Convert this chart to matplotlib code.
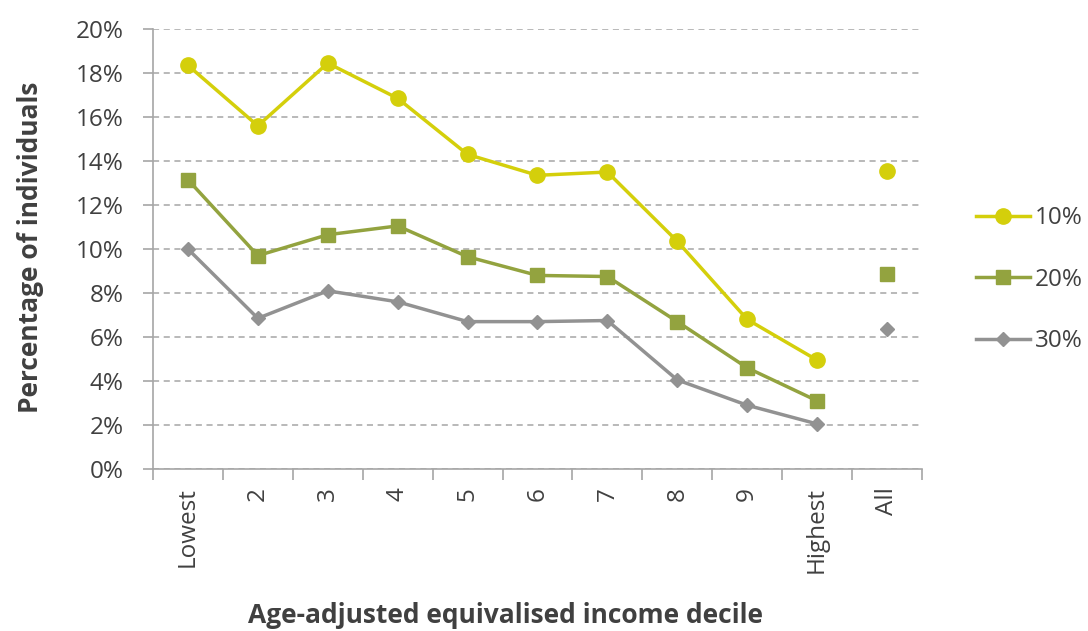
import matplotlib
matplotlib.use("Agg")
import matplotlib.pyplot as plt
from matplotlib.ticker import FuncFormatter, FixedLocator
import numpy as np

categories = ["Lowest", "2", "3", "4", "5", "6", "7", "8", "9", "Highest", "All"]
s10 = [18.35, 15.6, 18.45, 16.85, 14.3, 13.35, 13.5, 10.35, 6.8, 4.95, 13.55]
s20 = [13.15, 9.7, 10.65, 11.05, 9.65, 8.8, 8.75, 6.7, 4.6, 3.1, 8.85]
s30 = [10.0, 6.85, 8.1, 7.6, 6.7, 6.7, 6.75, 4.05, 2.9, 2.05, 6.35]
series_names = ["10%", "20%", "30%"]

plt.rcParams["font.family"] = ["Open Sans", "DejaVu Sans"]

fig = plt.figure(figsize=(10.88, 6.31), dpi=100)
ax = fig.add_axes([0.1406, 0.2567, 0.7068, 0.6973])

x = np.arange(len(categories))
styles = [("#D4CF0B", "o", 11), ("#93A33F", "s", 10), ("#929292", "D", 7.5)]
for vals, name, (col, mk, ms) in zip([s10, s20, s30], series_names, styles):
    ax.plot(x[:10], vals[:10], color=col, lw=2.5, marker=mk, ms=ms, label=name)
    ax.plot(x[10], vals[10], color=col, marker=mk, ms=ms, ls="none")

ax.set_xlim(-0.5, len(categories) - 0.5)
ax.set_ylim(0, 20)
ax.set_yticks(np.arange(0, 21, 2))
ax.yaxis.set_major_formatter(FuncFormatter(lambda v, p: f"{v:.0f}%"))
ax.grid(axis="y", color="#A6A6A6", ls=(0, (4, 3)), lw=1.1)
ax.set_axisbelow(True)

ax.set_xticks(x)
ax.set_xticklabels(categories, rotation=90)
ax.xaxis.set_minor_locator(FixedLocator(np.arange(-0.5, len(categories), 1)))
ax.tick_params(axis="x", which="major", length=0, pad=13)
ax.tick_params(axis="x", which="minor", length=8, color="#A6A6A6", width=1.2)
ax.tick_params(axis="y", length=7, color="#A6A6A6", width=1.2, pad=14)
ax.tick_params(labelsize=17.5, labelcolor="#404040")

for side in ["top", "right"]:
    ax.spines[side].set_visible(False)
for side in ["left", "bottom"]:
    ax.spines[side].set_color("#A6A6A6")
    ax.spines[side].set_linewidth(1.2)

ax.set_ylabel("Percentage of individuals", fontsize=19, fontweight="bold",
              color="#404040")
ax.yaxis.set_label_coords(-0.142, 0.505)
ax.set_xlabel("Age-adjusted equivalised income decile", fontsize=19,
              fontweight="bold", color="#404040")
ax.xaxis.set_label_coords(0.459, -0.303)

ax.legend(loc="center left", bbox_to_anchor=(1.058, 0.43), frameon=False,
          borderaxespad=0, fontsize=17.5, handlelength=2.2, handletextpad=0.2,
          labelspacing=1.55, labelcolor="#404040")

fig.savefig("out.png", dpi=100)
